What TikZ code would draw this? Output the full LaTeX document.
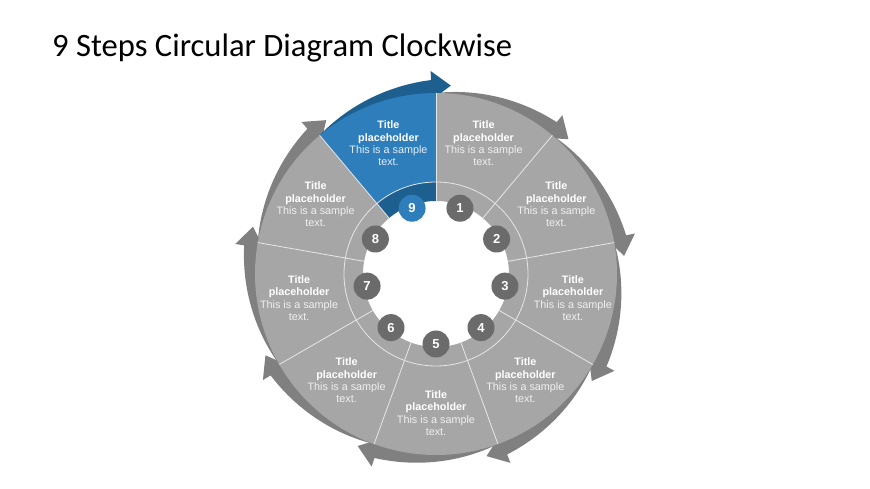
\documentclass[tikz,border=0pt]{standalone}
\usepackage{fontspec}
\setmainfont{Liberation Sans}
\newfontfamily\titlefont{Carlito}
\definecolor{seggray}{HTML}{A6A6A6}
\definecolor{arrgray}{HTML}{808080}
\definecolor{numgray}{HTML}{6B6B6B}
\definecolor{segblue}{HTML}{2E7EBB}
\definecolor{darkblue}{HTML}{1D5F8F}
\definecolor{bodygray}{HTML}{F0F0F0}
\definecolor{bodyblue}{HTML}{E4EEF7}
\definecolor{sepc}{HTML}{E6E6E6}
\tikzset{
  sepline/.style={draw=sepc, line width=0.8pt},
  numc/.style={circle, minimum size=27pt, inner sep=0pt, text=white, font=\bfseries\fontsize{13}{13}\selectfont},
  segtext/.style={align=center, inner sep=0pt, text=white, font=\fontsize{10.8}{12.4}\selectfont},
}
\begin{document}
\begin{tikzpicture}[x=1pt,y=1pt]
\useasboundingbox (0,0) rectangle (870,489);
\fill[white] (0,0) rectangle (870,489);
\node[anchor=base west, font=\titlefont\fontsize{32.6}{38}\selectfont, inner sep=0pt] (title) at (52,432) {9 Steps Circular Diagram Clockwise};
\begin{scope}[shift={(436,215)}]
  % outer arrows
  \foreach \k [evaluate=\k as \a using 90-40*(\k-1),
               evaluate=\k as \hb using 90-40*\k+1.5,
               evaluate=\k as \tp using 90-40*\k-4.5] in {1,...,9} {
    \ifnum\k=9 \def\ac{darkblue}\else\def\ac{arrgray}\fi
    \fill[\ac] (\a:178) -- plot[domain=0:1, samples=30] ({\a-\x*(\a-\hb)}:{181+13*\x})
      -- (\hb:203) -- (\tp:189) -- (\hb:174) -- (\hb:178)
      arc[start angle=\hb, end angle=\a, radius=178] -- cycle;
  }
  % segments
  \foreach \k [evaluate=\k as \s using 90-40*(\k-1),
               evaluate=\k as \e using 90-40*\k] in {1,...,8} {
    \fill[seggray] (\s:73) -- (\s:181) arc[start angle=\s, end angle=\e, radius=181]
      -- (\e:73) arc[start angle=\e, end angle=\s, radius=73] -- cycle;
  }
  \fill[segblue] (130:92) -- (130:181) arc[start angle=130, end angle=90, radius=181]
      -- (90:92) arc[start angle=90, end angle=130, radius=92] -- cycle;
  \fill[darkblue] (130:73) -- (130:92) arc[start angle=130, end angle=90, radius=92]
      -- (90:73) arc[start angle=90, end angle=130, radius=73] -- cycle;
  % separators
  \foreach \k in {0,...,8} {
    \draw[sepline] ({90-40*\k}:73) -- ({90-40*\k}:181);
  }
  \draw[sepline] (0,0) circle[radius=92];
  % numbers
  \foreach \k in {1,...,8} {
    \node[numc, fill=numgray] (n\k) at ({110-40*\k}:70) {\k};
  }
  \node[numc, fill=segblue] (n9) at (110:70) {9};
  % texts
  \foreach \k in {1,...,8} {
    \node[segtext] (t\k) at ({110-40*\k}:139) {\textbf{Title}\\\textbf{placeholder}\\\textcolor{bodygray}{This is a sample}\\\textcolor{bodygray}{text.}};
  }
  \node[segtext] (t9) at (110:139) {\textbf{Title}\\\textbf{placeholder}\\\textcolor{bodyblue}{This is a sample}\\\textcolor{bodyblue}{text.}};
\end{scope}
\end{tikzpicture}
\end{document}
